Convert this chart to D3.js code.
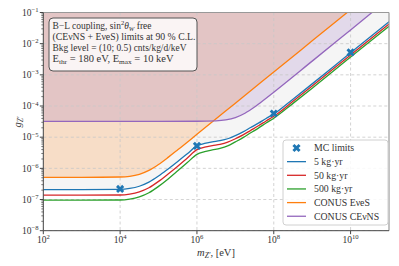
<!DOCTYPE html>
<html><head><meta charset="utf-8">
<script src="https://cdn.jsdelivr.net/npm/d3@7"></script>
<style>
body{margin:0;background:#fff}
svg{display:block}
text{font-family:"Liberation Serif","DejaVu Serif",serif;fill:#333}
</style>
</head><body>
<svg id="c" width="399" height="266"></svg>
<script>
// ---- data (log10 values) ----
const logM      = [2, 3, 4, 4.25, 4.5, 4.75, 5, 5.25, 5.5, 5.75, 6, 6.2, 6.4, 6.6, 6.8, 7, 7.2, 7.4, 7.6, 7.8, 8, 8.5, 9, 10, 11];
const blueLogG  = [-6.68,-6.68,-6.675,-6.645,-6.574,-6.442,-6.248,-6.02,-5.78,-5.53,-5.28,-5.20,-5.15,-5.11,-5.05,-4.95,-4.83,-4.69,-4.55,-4.40,-4.26,-3.78,-3.29,-2.29,-1.30];
const redLogG   = [-6.86,-6.86,-6.855,-6.825,-6.754,-6.622,-6.418,-6.18,-5.93,-5.665,-5.40,-5.32,-5.27,-5.23,-5.16,-5.05,-4.925,-4.78,-4.635,-4.48,-4.33,-3.85,-3.36,-2.36,-1.37];
const greenLogG = [-7.02,-7.02,-7.015,-6.985,-6.914,-6.782,-6.578,-6.34,-6.08,-5.815,-5.55,-5.465,-5.41,-5.36,-5.28,-5.15,-5.015,-4.86,-4.71,-4.545,-4.39,-3.915,-3.43,-2.43,-1.44];
const orangeLogM = [2, 3, 4, 4.25, 4.5, 4.75, 5, 5.25, 5.5, 6, 7, 8, 9, 10];
const orangeLogG = [-6.29,-6.29,-6.278,-6.254,-6.19,-6.065,-5.875,-5.648,-5.406,-4.909,-3.91,-2.91,-1.91,-0.91];
const purpleLogM = [2, 3, 4, 5, 6, 6.5, 6.75, 7, 7.25, 7.5, 7.75, 8, 9, 10, 11];
const purpleLogG = [-4.49,-4.49,-4.49,-4.49,-4.488,-4.475,-4.445,-4.372,-4.231,-4.032,-3.80,-3.557,-2.56,-1.56,-0.56];
const mcLogM = [4, 6, 8, 10];
const mcLogG = [-6.66, -5.28, -4.24, -2.28];
const xTickExp = [2, 4, 6, 8, 10];
const yTickExp = [-8, -7, -6, -5, -4, -3, -2, -1];
const legendLabels = ["MC limits", "5 kg·yr", "50 kg·yr", "500 kg·yr", "CONUS EνeS", "CONUS CEνNS"];

// ---- layout ----
const L = 43.3, R = 389, T = 12.5, B = 230.7;
const svg = d3.select("#c");
const x = d3.scaleLog().domain([1e2, 1e11]).range([L, R]);
const y = d3.scaleLog().domain([1e-8, 1e-1]).range([B, T]);
const pts = (lm, lg) => lm.map((m, i) => [x(Math.pow(10, m)), y(Math.pow(10, lg[i]))]);

const C = {blue:"#1f77b4", red:"#d62728", green:"#2ca02c", orange:"#ff7f0e", purple:"#9467bd"};

svg.append("defs").append("clipPath").attr("id","clip")
  .append("rect").attr("x",L).attr("y",T).attr("width",R-L).attr("height",B-T);

const plot = svg.append("g").attr("clip-path","url(#clip)");

const areaAbove = d3.area().x(d=>d[0]).y0(T-5).y1(d=>d[1]).curve(d3.curveMonotoneX);
const line = d3.line().curve(d3.curveMonotoneX);

const bluePts = pts(logM, blueLogG);
const orangePts = pts(orangeLogM, orangeLogG);
const purplePts = pts(purpleLogM, purpleLogG);

plot.append("path").attr("d", areaAbove(bluePts)).attr("fill","#f5f5f5");
plot.append("path").attr("d", areaAbove(orangePts)).attr("fill",C.orange).attr("fill-opacity",0.2);
plot.append("path").attr("d", areaAbove(purplePts)).attr("fill",C.purple).attr("fill-opacity",0.2);

// grid
const grid = plot.append("g").attr("stroke","#c8c8c8").attr("stroke-width",0.8).attr("stroke-dasharray","3,2.5");
xTickExp.forEach(e=>grid.append("line").attr("x1",x(Math.pow(10,e))).attr("x2",x(Math.pow(10,e))).attr("y1",T).attr("y2",B));
yTickExp.forEach(e=>grid.append("line").attr("y1",y(Math.pow(10,e))).attr("y2",y(Math.pow(10,e))).attr("x1",L).attr("x2",R));

// lines
[[pts(logM,greenLogG),C.green],[pts(logM,redLogG),C.red],[bluePts,C.blue],[orangePts,C.orange],[purplePts,C.purple]]
  .forEach(([p,c])=>plot.append("path").attr("d",line(p)).attr("fill","none").attr("stroke",c).attr("stroke-width",1.3));

// markers
const xsym = d3.symbol().type(d3.symbolCross).size(42);
mcLogM.forEach((m,i)=>{
  svg.append("path").attr("d",xsym()).attr("fill",C.blue)
    .attr("transform",`translate(${x(Math.pow(10,m))},${y(Math.pow(10,mcLogG[i]))}) rotate(45)`);
});

// frame
svg.append("line").attr("x1",L).attr("x2",R).attr("y1",T).attr("y2",T).attr("stroke","#999").attr("stroke-width",1.2);
svg.append("line").attr("x1",R).attr("x2",R).attr("y1",T).attr("y2",B).attr("stroke","#999").attr("stroke-width",1.2);
svg.append("line").attr("x1",L).attr("x2",L).attr("y1",T).attr("y2",B).attr("stroke","#444").attr("stroke-width",1);
svg.append("line").attr("x1",L).attr("x2",R).attr("y1",B).attr("y2",B).attr("stroke","#444").attr("stroke-width",1);

// text helper
function rich(sel, segs, size){
  let cur = 0;
  segs.forEach(s=>{
    const t = sel.append("tspan").text(s.t);
    let target = 0, fs = size;
    if (s.s==="sup"){ target = -size*0.38; fs = size*0.7; }
    if (s.s==="sub"){ target = size*0.2; fs = size*0.7; }
    t.attr("dy", target-cur).attr("font-size", fs);
    if (s.i) t.attr("font-style","italic");
    cur = target;
  });
}

// ticks
const ax = svg.append("g");
xTickExp.forEach(e=>{
  const px = x(Math.pow(10,e));
  ax.append("line").attr("x1",px).attr("x2",px).attr("y1",B).attr("y2",B+3.5).attr("stroke","#444");
  const t = ax.append("text").attr("x",px).attr("y",243).attr("text-anchor","middle");
  rich(t,[{t:"10"},{t:String(e),s:"sup"}],9.5);
});
yTickExp.forEach(e=>{
  const py = y(Math.pow(10,e));
  ax.append("line").attr("x1",L-3.5).attr("x2",L).attr("y1",py).attr("y2",py).attr("stroke","#444");
  const t = ax.append("text").attr("x",38.5).attr("y",py+3.2).attr("text-anchor","end");
  rich(t,[{t:"10"},{t:"−"+Math.abs(e),s:"sup"}],9.5);
});
for (let e=-8;e<-1;e++) for (let k=2;k<=9;k++){
  const py = y(k*Math.pow(10,e));
  ax.append("line").attr("x1",L-2).attr("x2",L).attr("y1",py).attr("y2",py).attr("stroke","#444").attr("stroke-width",0.7);
}

// axis titles
const xt = svg.append("text").attr("x",216).attr("y",256).attr("text-anchor","middle");
rich(xt,[{t:"m",i:true},{t:"Z′",s:"sub",i:true},{t:", [eV]"}],10.5);
const yt = svg.append("text").attr("transform","translate(21,122) rotate(-90)").attr("text-anchor","middle");
rich(yt,[{t:"g",i:true},{t:"Z′",s:"sub",i:true}],10.5);

// info box
svg.append("rect").attr("x",49).attr("y",18).attr("width",148).attr("height",53).attr("rx",4)
  .attr("fill","#fff").attr("fill-opacity",0.8).attr("stroke","#555").attr("stroke-width",1);
const info = [
  [{t:"B−L coupling, sin"},{t:"2",s:"sup"},{t:"θ",i:true},{t:"W",s:"sub",i:true},{t:" free"}],
  [{t:"(CEνNS + EνeS) limits at 90 % C.L."}],
  [{t:"Bkg level = (10; 0.5) cnts/kg/d/keV"}],
  [{t:"E"},{t:"thr",s:"sub"},{t:" = 180 eV, E"},{t:"max",s:"sub"},{t:" = 10 keV"}]
];
const infoWidths = [99, 143, 134, 121];
info.forEach((segs,i)=>{
  const t = svg.append("text").attr("x",52.5).attr("y",29+i*11)
    .attr("textLength",infoWidths[i]).attr("lengthAdjust","spacingAndGlyphs");
  rich(t,segs,9.3);
});

// legend
svg.append("rect").attr("x",283).attr("y",140).attr("width",105).attr("height",85).attr("rx",3)
  .attr("fill","#fff").attr("fill-opacity",0.85).attr("stroke","#d0d0d0").attr("stroke-width",1);
const legColors = [null, C.blue, C.red, C.green, C.orange, C.purple];
legendLabels.forEach((lab,i)=>{
  const ly = 148 + i*13.65;
  if (i===0){
    svg.append("path").attr("d",xsym()).attr("fill",C.blue).attr("transform",`translate(296.5,${ly}) rotate(45)`);
  } else {
    svg.append("line").attr("x1",287).attr("x2",306).attr("y1",ly).attr("y2",ly).attr("stroke",legColors[i]).attr("stroke-width",1.3);
  }
  svg.append("text").attr("x",314).attr("y",ly+3.3).attr("font-size",9.8).text(lab);
});
</script>
</body></html>
